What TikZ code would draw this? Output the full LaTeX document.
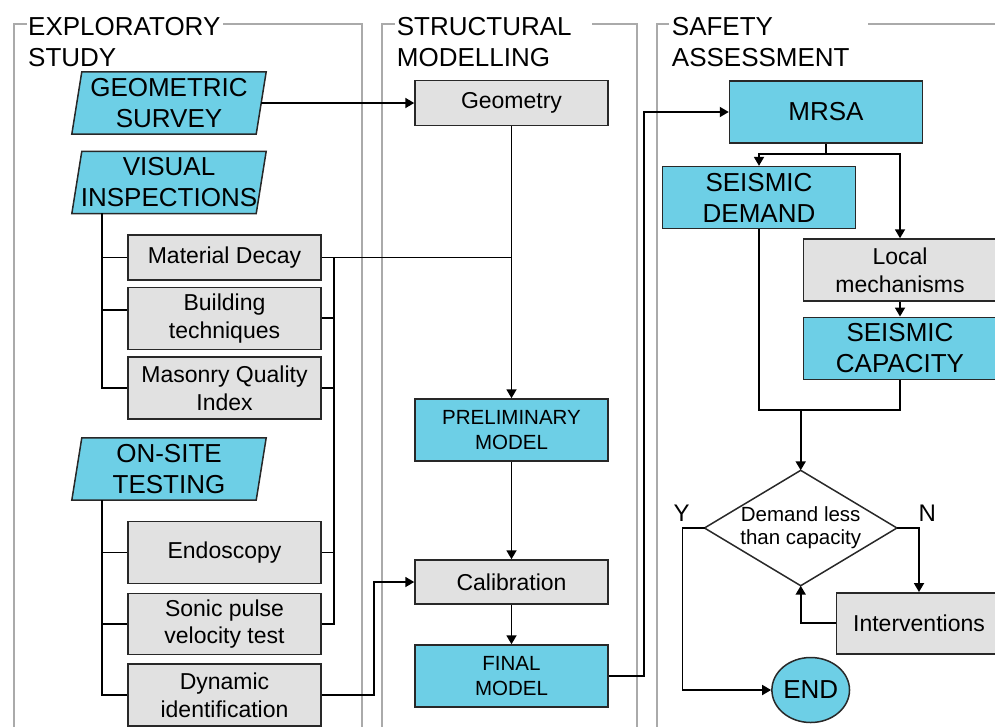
\documentclass[tikz,border=0pt]{standalone}
\usepackage{fontspec}
\setmainfont{Liberation Sans}
\usetikzlibrary{arrows.meta,shapes.geometric,backgrounds}
\definecolor{cyanfill}{RGB}{109,207,230}
\definecolor{grayfill}{RGB}{225,225,225}
\definecolor{panelgray}{RGB}{170,170,170}
\definecolor{edgecol}{RGB}{40,40,40}
\begin{document}
\begin{tikzpicture}[x=1pt,y=-1pt,
  fbig/.style={font=\fontsize{26}{31}\selectfont},
  fmid/.style={font=\fontsize{23}{27.6}\selectfont},
  fsmall/.style={font=\fontsize{20.5}{25}\selectfont},
  boxbase/.style={draw=edgecol,line width=1.5pt,inner sep=0pt,align=center,minimum width=193pt,minimum height=62pt},
  cbox/.style={boxbase,fill=cyanfill},
  gbox/.style={boxbase,fill=grayfill,fmid},
  para/.style={inner sep=0pt,align=center,minimum width=184pt,minimum height=62pt,fbig},
  pshape/.style={draw=edgecol,line width=1.5pt,fill=cyanfill},
  conn/.style={line width=1.8pt,draw=black},
  arr/.style={conn,-{Triangle[length=9pt,width=10pt]}},
  panel/.style={line width=1.5pt,draw=panelgray},
  title/.style={inner sep=0pt,anchor=west,align=left,fbig},
  yn/.style={inner sep=0pt,font=\fontsize{24}{28}\selectfont},
]
\useasboundingbox (0,0) rectangle (995,726);

% panels
\draw[panel] (27,24) -- (14,24) -- (14,730);
\draw[panel] (223,24) -- (362,24) -- (362,730);
\draw[panel] (395,24) -- (382,24) -- (382,730);
\draw[panel] (592,24) -- (637,24) -- (637,730);
\draw[panel] (669,24) -- (657,24) -- (657,730);
\draw[panel] (868,24) -- (1000,24);

% titles
\node[title] (t1) at (28,42.5) {EXPLORATORY\\STUDY};
\node[title] (t2) at (396.7,42.5) {STRUCTURAL\\MODELLING};
\node[title] (t3) at (671.7,42.5) {SAFETY\\ASSESSMENT};

% exploratory study
\node[para] (geo) at (169,103) {GEOMETRIC\\SURVEY};
\node[para] (vis) at (169,182.5) {VISUAL\\INSPECTIONS};
\node[para] (ons) at (169,469) {ON-SITE\\TESTING};
\begin{scope}[on background layer]
\foreach \n in {geo,vis,ons}
  \draw[pshape] ([xshift=5pt]\n.north west) -- ([xshift=5pt]\n.north east) -- ([xshift=-5pt]\n.south east) -- ([xshift=-5pt]\n.south west) -- cycle;
\end{scope}

\node[gbox,minimum height=45pt] (md) at (224.5,257.5) {Material Decay};
\node[gbox] (bt) at (224.5,318.3) {Building\\techniques};
\node[gbox] (mq) at (224.5,388) {Masonry Quality\\Index};
\node[gbox] (en) at (224.5,552.5) {Endoscopy};
\node[gbox,minimum height=61pt] (sp) at (224.5,624) {Sonic pulse\\velocity test};
\node[gbox] (di) at (224.5,695) {Dynamic\\identification};

% structural modelling
\node[gbox,minimum height=45pt] (geom) at (511.5,103) {Geometry};
\node[cbox,fsmall] (pre) at (511.5,430) {PRELIMINARY\\MODEL};
\node[gbox,minimum height=44pt] (cal) at (511.5,582) {Calibration};
\node[cbox,fsmall] (fin) at (511.5,676) {FINAL\\MODEL};

% safety assessment
\node[cbox,fbig] (mrsa) at (826,112) {MRSA};
\node[cbox,fbig] (sd) at (759,197.6) {SEISMIC\\DEMAND};
\node[gbox] (lm) at (900,270) {Local\\mechanisms};
\node[cbox,fbig] (sc) at (900,348.3) {SEISMIC\\CAPACITY};
\node[inner sep=0pt,align=center,minimum width=192pt,minimum height=115pt,font=\fontsize{20.5}{22.7}\selectfont] (dia) at (800.7,528) {Demand less\\than capacity};
\draw[draw=edgecol,line width=1.5pt] (dia.north) -- (dia.east) -- (dia.south) -- (dia.west) -- cycle;
\node[gbox,minimum width=165pt,minimum height=61pt] (itv) at (919,623.3) {Interventions};
\node[ellipse,draw=edgecol,line width=1.5pt,fill=cyanfill,minimum width=73pt,minimum height=65pt,inner sep=0pt,fbig] (endn) at (810.7,690) {END};
\node[yn] (ylab) at (681.7,513) {Y};
\node[yn] (nlab) at (927.3,513) {N};

% connectors: exploratory
\draw[arr] (geo.east) -- (geom.west);
\coordinate (vt) at (102,213);
\draw[conn] (vt) |- (mq.west);
\draw[conn] (vt |- md.west) -- (md.west);
\coordinate (btl) at (102,310);
\draw[conn] (btl) -- (btl -| bt.west);
\coordinate (ot) at (102,500);
\draw[conn] (ot) |- (di.west);
\draw[conn] (ot |- en.west) -- (en.west);
\draw[conn] (ot |- sp.west) -- (sp.west);
\coordinate (bus) at (334,257.5);
\draw[conn] (md.east) -- (md.east -| geom.south);
\draw[conn] (bus) -- (bus |- sp.east) -- (sp.east);
\draw[conn] (bt.east) -- (bt.east -| bus);
\draw[conn] (mq.east) -- (mq.east -| bus);
\draw[conn] (en.east) -- (en.east -| bus);
\draw[arr] (di.east) -- ++(52,0) |- (cal.west);

% connectors: structural
\draw[arr] (geom.south) -- (pre.north);
\draw[arr] (pre.south) -- (cal.north);
\draw[arr] (cal.south) -- (fin.north);
\draw[arr] (fin.east) -- ++(35,0) |- (mrsa.west);

% connectors: safety
\coordinate (ms) at (826,154);
\draw[conn] (mrsa.south) -- (ms);
\draw[arr] (ms) -| (sd.north);
\draw[arr] (ms) -| (lm.north);
\draw[arr] (lm.south) -- (sc.north);
\coordinate (jn) at (800.7,410);
\draw[conn] (sd.south) |- (jn);
\draw[conn] (sc.south) |- (jn);
\draw[arr] (jn) -- (dia.north);
\draw[arr] (dia.west) -- ++(-22,0) |- (endn.west);
\draw[arr] (dia.east) -| (itv.north);
\draw[arr] (itv.west) -| (dia.south);
\end{tikzpicture}
\end{document}
